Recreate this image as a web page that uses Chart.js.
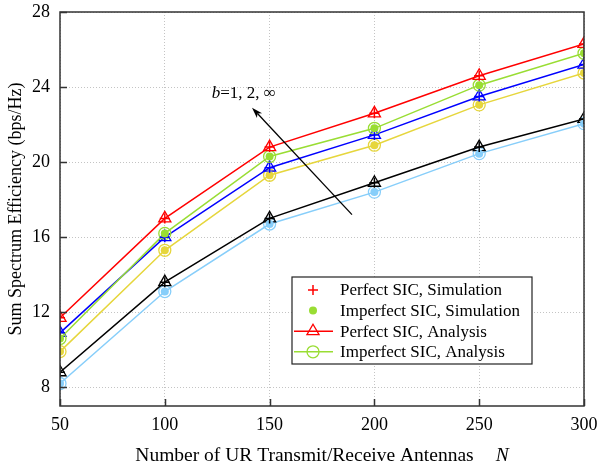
<!DOCTYPE html>
<html lang="en">
<head>
<meta charset="UTF-8">
<title>Sum Spectrum Efficiency vs Number of UR Antennas</title>
<script src="https://cdn.jsdelivr.net/npm/chart.js"></script>
<style>
  html, body { margin: 0; padding: 0; background: #fff; }
  #wrap { width: 599px; height: 468px; }
</style>
</head>
<body>
<div id="wrap"><canvas id="grafico" width="599" height="468"></canvas></div>
<script>
// number of UR transmit/receive antennas N
const antennas = [50, 100, 150, 200, 250, 300];

// b = infinity
const perfectBInf   = [11.7, 17.0, 20.8, 22.6, 24.6, 26.3];
const imperfectBInf = [10.6, 16.2, 20.3, 21.8, 24.1, 25.8];
// b = 2
const perfectB2     = [10.9, 16.0, 19.7, 21.45, 23.5, 25.2];
const imperfectB2   = [9.9, 15.3, 19.3, 20.9, 23.05, 24.75];
// b = 1
const perfectB1     = [8.8, 13.6, 17.0, 18.9, 20.8, 22.3];
const imperfectB1   = [8.2, 13.1, 16.7, 18.4, 20.45, 22.05];

const xTicks = [50, 100, 150, 200, 250, 300];
const yTicks = [8, 12, 16, 20, 24, 28];

const serif = "'Liberation Serif', 'Times New Roman', serif";
const RED = "#ff0000", GREEN = "#99dd33", BLUE = "#0000ff",
      YELLOW = "#e6d63c", BLACK = "#000000", SKY = "#87cefa";

function puntos(data) {
    return antennas.map((x, i) => ({ x: x, y: data[i] }));
}

// analysis curve: line with hollow marker
function analisis(label, data, color, style) {
    return {
        label: label, data: puntos(data), order: 1,
        borderColor: color, backgroundColor: "rgba(0,0,0,0)", borderWidth: 1.5,
        pointStyle: style, pointRadius: style === "triangle" ? 7 : 6,
        pointBorderColor: color, pointBackgroundColor: "rgba(0,0,0,0)",
        pointBorderWidth: 1.3, tension: 0
    };
}
// simulation result: markers only
function simulacion(label, data, color, style) {
    return {
        label: label, data: puntos(data), order: 0, showLine: false,
        pointStyle: style, pointRadius: style === "cross" ? 5 : 4,
        pointBorderColor: color, pointBackgroundColor: color,
        pointBorderWidth: style === "cross" ? 1.5 : 0
    };
}

const datasets = [
    analisis("Perfect b=inf", perfectBInf, RED, "triangle"),
    analisis("Imperfect b=inf", imperfectBInf, GREEN, "circle"),
    analisis("Perfect b=2", perfectB2, BLUE, "triangle"),
    analisis("Imperfect b=2", imperfectB2, YELLOW, "circle"),
    analisis("Perfect b=1", perfectB1, BLACK, "triangle"),
    analisis("Imperfect b=1", imperfectB1, SKY, "circle"),
    simulacion("Perfect sim b=inf", perfectBInf, RED, "cross"),
    simulacion("Imperfect sim b=inf", imperfectBInf, GREEN, "circle"),
    simulacion("Perfect sim b=2", perfectB2, BLUE, "cross"),
    simulacion("Imperfect sim b=2", imperfectB2, YELLOW, "circle"),
    simulacion("Perfect sim b=1", perfectB1, BLACK, "cross"),
    simulacion("Imperfect sim b=1", imperfectB1, SKY, "circle")
];

// legend entries (drawn inside the plot)
const legendItems = [
    { text: "Perfect SIC, Simulation", color: RED, marker: "cross", line: false },
    { text: "Imperfect SIC, Simulation", color: GREEN, marker: "dot", line: false },
    { text: "Perfect SIC, Analysis", color: RED, marker: "triangle", line: true },
    { text: "Imperfect SIC, Analysis", color: GREEN, marker: "circle", line: true }
];

// arrow annotation in data coordinates
const arrowFrom = { x: 189.3, y: 17.2 };
const arrowTo = { x: 141.6, y: 22.9 };
const arrowLabel = { x: 122.4, y: 23.43 };

function marcador(ctx, kind, x, y, color) {
    ctx.save();
    ctx.strokeStyle = color; ctx.fillStyle = color; ctx.lineWidth = 1.3;
    ctx.beginPath();
    if (kind === "cross") {
        ctx.lineWidth = 1.5;
        ctx.moveTo(x - 5, y); ctx.lineTo(x + 5, y);
        ctx.moveTo(x, y - 5); ctx.lineTo(x, y + 5);
        ctx.stroke();
    } else if (kind === "dot") {
        ctx.arc(x, y, 4, 0, Math.PI * 2); ctx.fill();
    } else if (kind === "circle") {
        ctx.arc(x, y, 6, 0, Math.PI * 2); ctx.stroke();
    } else if (kind === "triangle") {
        const r = 7;
        ctx.moveTo(x, y - r);
        ctx.lineTo(x + r * Math.sin(Math.PI * 2 / 3), y - r * Math.cos(Math.PI * 2 / 3));
        ctx.lineTo(x + r * Math.sin(Math.PI * 4 / 3), y - r * Math.cos(Math.PI * 4 / 3));
        ctx.closePath(); ctx.stroke();
    }
    ctx.restore();
}

const decoraciones = {
    id: "decoraciones",
    afterDatasetsDraw(chart) {
        const ctx = chart.ctx, ca = chart.chartArea;
        const xs = chart.scales.x, ys = chart.scales.y;

        // frame
        ctx.save();
        ctx.strokeStyle = "#333"; ctx.lineWidth = 1.5;
        ctx.strokeRect(ca.left, ca.top, ca.right - ca.left, ca.bottom - ca.top);
        // inward tick marks
        ctx.beginPath();
        yTicks.forEach(v => {
            const py = Math.round(ys.getPixelForValue(v)) + 0.5;
            ctx.moveTo(ca.left, py); ctx.lineTo(ca.left + 7, py);
        });
        xTicks.forEach(v => {
            const px = Math.round(xs.getPixelForValue(v)) + 0.5;
            ctx.moveTo(px, ca.bottom); ctx.lineTo(px, ca.bottom - 7);
        });
        ctx.stroke();
        ctx.restore();

        // arrow
        const x1 = xs.getPixelForValue(arrowFrom.x), y1 = ys.getPixelForValue(arrowFrom.y);
        const x2 = xs.getPixelForValue(arrowTo.x), y2 = ys.getPixelForValue(arrowTo.y);
        const ang = Math.atan2(y2 - y1, x2 - x1);
        ctx.save();
        ctx.strokeStyle = "#000"; ctx.fillStyle = "#000"; ctx.lineWidth = 1.3;
        ctx.beginPath();
        ctx.moveTo(x1, y1);
        ctx.lineTo(x2 - 8 * Math.cos(ang), y2 - 8 * Math.sin(ang));
        ctx.stroke();
        ctx.beginPath();
        ctx.moveTo(x2, y2);
        ctx.lineTo(x2 - 11 * Math.cos(ang) + 3.5 * Math.sin(ang), y2 - 11 * Math.sin(ang) - 3.5 * Math.cos(ang));
        ctx.lineTo(x2 - 8 * Math.cos(ang), y2 - 8 * Math.sin(ang));
        ctx.lineTo(x2 - 11 * Math.cos(ang) - 3.5 * Math.sin(ang), y2 - 11 * Math.sin(ang) + 3.5 * Math.cos(ang));
        ctx.closePath(); ctx.fill();
        ctx.restore();

        // arrow label
        ctx.save();
        ctx.fillStyle = "#000"; ctx.textBaseline = "alphabetic"; ctx.textAlign = "left";
        let tx = xs.getPixelForValue(arrowLabel.x);
        const ty = ys.getPixelForValue(arrowLabel.y);
        ctx.font = "italic 17px " + serif;
        ctx.fillText("b", tx, ty);
        tx += ctx.measureText("b").width;
        ctx.font = "17px " + serif;
        ctx.fillText("=1, 2, \u221E", tx, ty);
        ctx.restore();

        // legend box
        const lx = ca.left + 232, ly = ca.top + 265, lw = 240, lh = 87;
        ctx.save();
        ctx.fillStyle = "#fff"; ctx.fillRect(lx, ly, lw, lh);
        ctx.strokeStyle = "#222"; ctx.lineWidth = 1.2; ctx.strokeRect(lx, ly, lw, lh);
        ctx.font = "17px " + serif; ctx.textBaseline = "middle"; ctx.fillStyle = "#000";
        legendItems.forEach((it, i) => {
            const ry = ly + 13 + i * 20.6;
            const mx = lx + 21;
            if (it.line) {
                ctx.strokeStyle = it.color; ctx.lineWidth = 1.5;
                ctx.beginPath(); ctx.moveTo(lx + 2, ry); ctx.lineTo(lx + 41, ry); ctx.stroke();
            }
            marcador(ctx, it.marker, mx, ry, it.color);
            ctx.fillStyle = "#000";
            ctx.fillText(it.text, lx + 48, ry + 1);
        });
        ctx.restore();

        // x axis title with italic N
        ctx.save();
        ctx.fillStyle = "#000"; ctx.textBaseline = "alphabetic"; ctx.textAlign = "left";
        const parte1 = "Number of UR Transmit/Receive Antennas";
        ctx.font = "19.5px " + serif;
        const w1 = ctx.measureText(parte1).width;
        const gap = 22;
        ctx.font = "italic 19.5px " + serif;
        const w2 = ctx.measureText("N").width;
        const sx = (ca.left + ca.right) / 2 - (w1 + gap + w2) / 2;
        ctx.font = "19.5px " + serif;
        ctx.fillText(parte1, sx, 461);
        ctx.font = "italic 19.5px " + serif;
        ctx.fillText("N", sx + w1 + gap, 461);
        ctx.restore();
    }
};

new Chart(document.getElementById("grafico").getContext("2d"), {
    type: "line",
    data: { datasets: datasets },
    options: {
        responsive: false,
        animation: false,
        layout: { padding: { left: 0, right: 15, top: 12, bottom: 0 } },
        plugins: { legend: { display: false }, tooltip: { enabled: false } },
        scales: {
            x: {
                type: "linear", min: 50, max: 300,
                afterBuildTicks: s => { s.ticks = xTicks.map(v => ({ value: v })); },
                afterFit: s => { s.height = 62; s.paddingLeft = 0; s.paddingRight = 0; },
                grid: { color: "#c4c4c4", lineWidth: 1, drawTicks: false },
                border: { display: false, dash: [1, 2] },
                ticks: { padding: 8, color: "#000", font: { family: serif, size: 18 } }
            },
            y: {
                type: "linear", min: 7, max: 28,
                afterBuildTicks: s => { s.ticks = yTicks.map(v => ({ value: v })); },
                afterFit: s => { s.width = 60; s.paddingTop = 0; s.paddingBottom = 0; },
                grid: { color: "#c4c4c4", lineWidth: 1, drawTicks: false },
                border: { display: false, dash: [1, 2] },
                ticks: { padding: 10, color: "#000", font: { family: serif, size: 18 } },
                title: {
                    display: true, text: "Sum Spectrum Efficiency (bps/Hz)", color: "#000",
                    font: { family: serif, size: 18 }, padding: { top: 5, bottom: 0 }
                }
            }
        }
    },
    plugins: [decoraciones]
});
</script>
</body>
</html>
